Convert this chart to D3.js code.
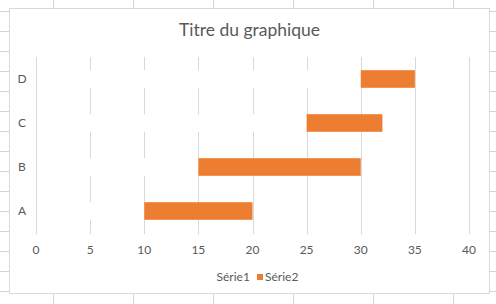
<!DOCTYPE html>
<html lang="fr">
<head>
    <meta charset="UTF-8">
    <title>Titre du graphique</title>
    <script src="https://d3js.org/d3.v7.min.js"></script>
    <style>
        body {
            margin: 0;
            background-color: white;
            font-family: Lato, 'Open Sans', 'Liberation Sans', Arial, sans-serif;
        }
        .grid line { stroke: #d9d9d9; stroke-width: 1; }
        .sheet line { stroke: #d4d4d4; stroke-width: 1; }
        .tick-label, .cat-label, .legend-label { fill: #595959; font-size: 12px; }
        .title { fill: #595959; font-size: 17.5px; }
    </style>
</head>
<body>
    <div id="chart"></div>
    <script>
        // Data: start (Série1, invisible) and duration (Série2)
        const categories = ["A", "B", "C", "D"];
        const serie1 = [10, 15, 25, 30];
        const serie2 = [10, 15, 7, 5];
        const xTicks = [0, 5, 10, 15, 20, 25, 30, 35, 40];
        const seriesNames = ["Série1", "Série2"];

        const W = 496, H = 304;
        const svg = d3.select("#chart")
            .append("svg")
            .attr("width", W)
            .attr("height", H);

        // Spreadsheet cells behind the chart
        const sheet = svg.append("g").attr("class", "sheet");
        sheet.selectAll(".v")
            .data(d3.range(53.5, W, 80))
            .enter()
            .append("line")
            .attr("x1", d => d).attr("x2", d => d)
            .attr("y1", 0).attr("y2", H);
        sheet.selectAll(".h")
            .data(d3.range(11.5, H, 20))
            .enter()
            .append("line")
            .attr("x1", 0).attr("x2", W)
            .attr("y1", d => d).attr("y2", d => d);

        // Chart area
        svg.append("rect")
            .attr("x", 9.5).attr("y", 8.5)
            .attr("width", 480).attr("height", 285)
            .attr("fill", "white")
            .attr("stroke", "#d9d9d9");

        svg.append("text")
            .attr("class", "title")
            .attr("x", 249.5).attr("y", 36)
            .attr("text-anchor", "middle")
            .text("Titre du graphique");

        const plot = {left: 36, right: 469, top: 57, bottom: 233};

        const x = d3.scaleLinear()
            .domain([0, 40])
            .range([plot.left, plot.right]);

        const y = d3.scaleBand()
            .domain(categories)
            .range([plot.bottom, plot.top])
            .paddingInner(0.6)
            .paddingOuter(0.3);

        // Vertical gridlines
        svg.append("g")
            .attr("class", "grid")
            .selectAll("line")
            .data(xTicks)
            .enter()
            .append("line")
            .attr("x1", d => Math.round(x(d)) + 0.5)
            .attr("x2", d => Math.round(x(d)) + 0.5)
            .attr("y1", plot.top)
            .attr("y2", plot.bottom + 1);

        // Série1: white bars hiding the gridlines
        svg.append("g")
            .selectAll("rect")
            .data(categories)
            .enter()
            .append("rect")
            .attr("x", x(0) + 1)
            .attr("y", d => y(d))
            .attr("width", (d, i) => x(serie1[i]) - x(0) - 1)
            .attr("height", y.bandwidth())
            .attr("fill", "white");

        // Série2: orange bars
        svg.append("g")
            .selectAll("rect")
            .data(categories)
            .enter()
            .append("rect")
            .attr("x", (d, i) => x(serie1[i]))
            .attr("y", d => y(d))
            .attr("width", (d, i) => x(serie1[i] + serie2[i]) - x(serie1[i]))
            .attr("height", y.bandwidth())
            .attr("fill", "#ed7d31");

        // Axis labels
        svg.append("g")
            .selectAll("text")
            .data(xTicks)
            .enter()
            .append("text")
            .attr("class", "tick-label")
            .attr("x", d => x(d))
            .attr("y", 253.5)
            .attr("text-anchor", "middle")
            .text(d => d);

        svg.append("g")
            .selectAll("text")
            .data(categories)
            .enter()
            .append("text")
            .attr("class", "cat-label")
            .attr("x", 22)
            .attr("y", d => y(d) + y.bandwidth() / 2 + 4)
            .attr("text-anchor", "middle")
            .text(d => d);

        // Legend
        const legendX = [216.5, 265];
        const legend = svg.append("g");
        legend.selectAll("rect")
            .data(seriesNames)
            .enter()
            .append("rect")
            .attr("x", (d, i) => legendX[i] - 8)
            .attr("y", 274)
            .attr("width", 6)
            .attr("height", 6)
            .attr("fill", (d, i) => i === 0 ? "white" : "#ed7d31");
        legend.selectAll("text")
            .data(seriesNames)
            .enter()
            .append("text")
            .attr("class", "legend-label")
            .attr("x", (d, i) => legendX[i])
            .attr("y", 281)
            .text(d => d);
    </script>
</body>
</html>
